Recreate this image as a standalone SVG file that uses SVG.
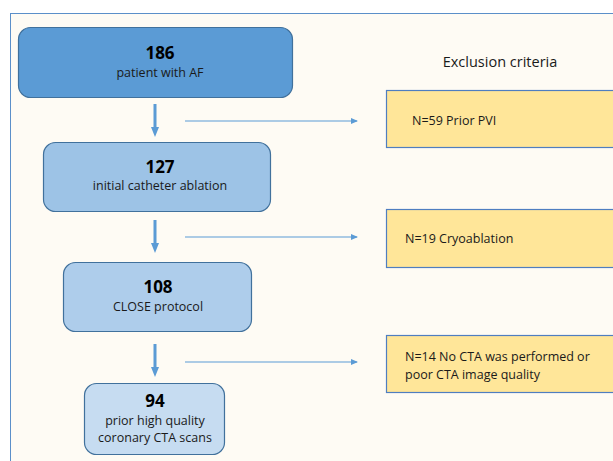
<svg xmlns="http://www.w3.org/2000/svg" width="613" height="461" viewBox="0 0 613 461">
<defs>
<style>
text{font-family:"Open Sans","Noto Sans","Liberation Sans",sans-serif;fill:#1a1a1a}
.num{font-size:17px;font-weight:bold;text-anchor:middle;fill:#000}
.lbl{font-size:12.5px;text-anchor:middle}
.ex{font-size:12.5px}
.node{stroke:#41719c;stroke-width:1.2}
.excl{fill:#ffe699;stroke:#4f7ec0;stroke-width:1.2}
.thick{stroke:#5b9bd5;stroke-width:3;fill:none}
.thin{stroke:#5b9bd5;stroke-width:1;fill:none}
</style>
<marker id="ah" markerWidth="10" markerHeight="10" refX="5" refY="4" orient="auto" markerUnits="userSpaceOnUse" viewBox="0 0 10 8">
<path d="M0,0 L10,4 L0,8 z" fill="#5b9bd5"/>
</marker>
<marker id="ah2" markerWidth="7" markerHeight="6" refX="6" refY="3" orient="auto" markerUnits="userSpaceOnUse" viewBox="0 0 7 6">
<path d="M0,0 L7,3 L0,6 z" fill="#5b9bd5"/>
</marker>
</defs>
<rect x="0" y="0" width="613" height="461" fill="#ffffff"/>
<rect x="10.5" y="13.5" width="620" height="460" fill="#fefbf4" stroke="#5b8fc9" stroke-width="1"/>
<text x="500" y="67" class="ex" style="text-anchor:middle;font-size:14.5px">Exclusion criteria</text>
<g id="connectors">
<line x1="155" y1="104" x2="155" y2="132" class="thick" marker-end="url(#ah)"/>
<line x1="155" y1="220" x2="155" y2="248" class="thick" marker-end="url(#ah)"/>
<line x1="155" y1="344" x2="155" y2="372" class="thick" marker-end="url(#ah)"/>
<line x1="185" y1="121" x2="357" y2="121" class="thin" marker-end="url(#ah2)"/>
<line x1="185" y1="237" x2="357" y2="237" class="thin" marker-end="url(#ah2)"/>
<line x1="185" y1="362" x2="357" y2="362" class="thin" marker-end="url(#ah2)"/>
</g>
<g id="n186">
<rect x="18.5" y="27.5" width="274" height="70" rx="12" class="node" fill="#5b9bd5"/>
<text x="160" y="59" class="num">186</text>
<text x="160" y="77" class="lbl">patient with AF</text>
</g>
<g id="n127">
<rect x="43.5" y="142.5" width="227" height="69" rx="12" class="node" fill="#9dc3e6"/>
<text x="160" y="173" class="num">127</text>
<text x="160" y="190" class="lbl">initial catheter ablation</text>
</g>
<g id="n108">
<rect x="63.5" y="262.5" width="188" height="69" rx="12" class="node" fill="#aecdeb"/>
<text x="158" y="293" class="num">108</text>
<text x="158" y="311" class="lbl">CLOSE protocol</text>
</g>
<g id="n94">
<rect x="84.5" y="383.5" width="140" height="71" rx="12" class="node" fill="#c6dcf1"/>
<text x="155" y="407" class="num">94</text>
<text x="155" y="425" class="lbl">prior high quality</text>
<text x="155" y="442" class="lbl">coronary CTA scans</text>
</g>
<g id="ex1">
<rect x="386.5" y="90.5" width="240" height="57" class="excl"/>
<text x="412" y="125" class="ex">N=59 Prior PVI</text>
</g>
<g id="ex2">
<rect x="386.5" y="209.5" width="240" height="58" class="excl"/>
<text x="405" y="243" class="ex">N=19 Cryoablation</text>
</g>
<g id="ex3">
<rect x="386.5" y="335.5" width="240" height="57" class="excl"/>
<text x="405" y="361" class="ex">N=14 No CTA was performed or</text>
<text x="405" y="379" class="ex">poor CTA image quality</text>
</g>
</svg>
